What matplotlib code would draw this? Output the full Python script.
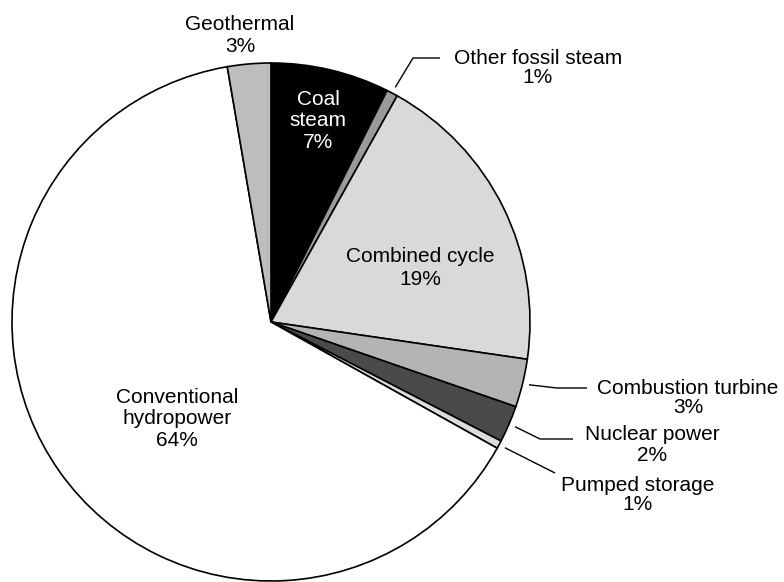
import matplotlib
matplotlib.use("Agg")
import numpy as np
import matplotlib.pyplot as plt

plt.rcParams['font.family'] = ['Liberation Sans', 'DejaVu Sans']

# share of generation, clockwise from 12 o'clock
sources = ["Coal steam", "Other fossil steam", "Combined cycle", "Combustion turbine",
           "Nuclear power", "Pumped storage", "Conventional hydropower", "Geothermal"]
shares = [7.4, 0.7, 19.2, 3.0, 2.3, 0.5, 64.2, 2.7]
pct_labels = ["7%", "1%", "19%", "3%", "2%", "1%", "64%", "3%"]
colors = ["#000000", "#9a9a9a", "#d9d9d9", "#b4b4b4", "#4a4a4a", "#dcdcdc", "#ffffff", "#bdbdbd"]

W, H = 784, 582
fig = plt.figure(figsize=(W / 100, H / 100), dpi=100)
ax = fig.add_axes([0, 0, 1, 1])

cx, cy, r = 271, H - 322, 259
wedges, _ = ax.pie(shares, colors=colors, startangle=90, counterclock=False,
                   radius=r, center=(cx, cy), frame=True,
                   wedgeprops=dict(edgecolor="black", linewidth=1.2))
ax.set_xlim(0, W)
ax.set_ylim(0, H)
ax.set_aspect("equal")
ax.axis("off")

fs = 15


def label(i, x, y, color="black", ls=1.17):
    txt = sources[i].replace("Coal steam", "Coal\nsteam").replace(
        "Conventional hydropower", "Conventional\nhydropower")
    ax.text(x, H - y, txt + "\n" + pct_labels[i], ha="center", va="center",
            fontsize=fs, color=color, linespacing=ls)


def anchor(i):
    w = wedges[i]
    a = np.deg2rad((w.theta1 + w.theta2) / 2)
    return cx + 1.025 * r * np.cos(a), cy + 1.025 * r * np.sin(a)


def leader(i, pts):
    x0, y0 = anchor(i)
    xs = [x0] + [p[0] for p in pts]
    ys = [y0] + [H - p[1] for p in pts]
    ax.plot(xs, ys, color="black", linewidth=1.0, solid_capstyle="butt")


# labels inside the pie
label(0, 318, 121, color="white", ls=1.15)
label(2, 420, 268, ls=1.25)
label(6, 177, 419, ls=1.17)
label(7, 240, 35, ls=1.2)

# labels outside with leader lines
label(1, 538, 68, ls=1.05)
leader(1, [(413, 58), (440, 58)])
label(3, 688, 398, ls=1.05)
leader(3, [(557, 388), (587, 388)])
label(4, 652, 445, ls=1.1)
leader(4, [(540, 439), (573, 439)])
label(5, 638, 495, ls=1.05)
leader(5, [(555, 473)])

fig.savefig("out.png", dpi=100)
